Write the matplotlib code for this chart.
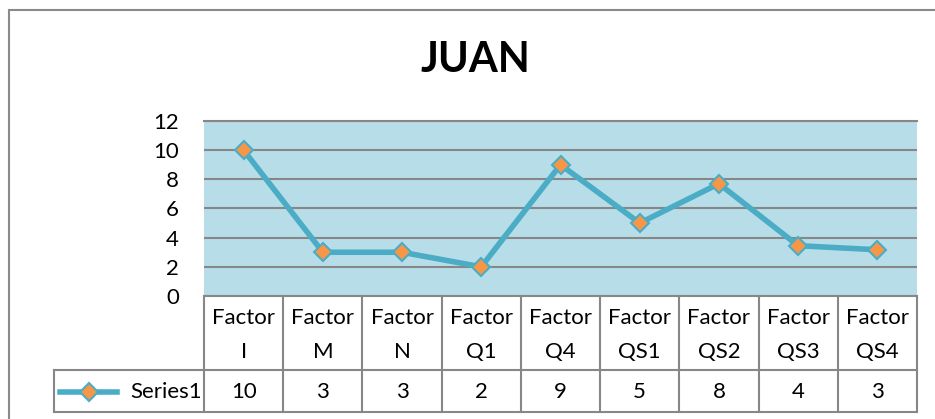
import matplotlib.pyplot as plt
from matplotlib.patches import Rectangle
from matplotlib.lines import Line2D

plt.rcParams['font.family'] = ['Lato', 'DejaVu Sans']

# chart data
categories = ['Factor\nI', 'Factor\nM', 'Factor\nN', 'Factor\nQ1', 'Factor\nQ4',
              'Factor\nQS1', 'Factor\nQS2', 'Factor\nQS3', 'Factor\nQS4']
values = [10, 3, 3, 2, 9, 5, 7.7, 3.45, 3.17]
table_labels = ['10', '3', '3', '2', '9', '5', '8', '4', '3']
series_name = 'Series1'
title = 'JUAN'

W, H = 935, 419
LINE_C = '#4BACC6'
MARK_C = '#F79646'
GRID_C = '#878787'
BG_C = '#B7DDE8'
FS = 16

fig = plt.figure(figsize=(W / 100, H / 100), dpi=100)

# outer chart border
fig.patches.append(Rectangle((9 / W, -0.01), 1.0, 1 - 10 / H + 0.01, transform=fig.transFigure,
                             fill=False, edgecolor='#8a8a8a', linewidth=1.5))

ax = fig.add_axes([204 / W, (H - 296) / H, 713 / W, 175 / H])
ax.set_facecolor(BG_C)
x = list(range(len(values)))
ax.plot(x, values, color=LINE_C, linewidth=4, marker='D', markersize=9,
        markerfacecolor=MARK_C, markeredgecolor=LINE_C, markeredgewidth=1.5, zorder=3)
ax.set_xlim(-0.5, len(values) - 0.5)
ax.set_ylim(0, 12)
ax.set_yticks(range(0, 13, 2))
ax.yaxis.grid(True, color=GRID_C, linewidth=1.5)
ax.set_axisbelow(True)
ax.set_xticks([])
ax.tick_params(axis='y', length=0, labelsize=FS, pad=18)
for s in ['left', 'bottom', 'right']:
    ax.spines[s].set_visible(False)
ax.spines['top'].set_color(GRID_C)
ax.spines['top'].set_linewidth(1.5)

fig.text(475 / W, 1 - 60 / H, title, ha='center', va='center', fontsize=30, fontweight='bold')

# data table below the plot
tr = ax.get_xaxis_transform()
y_head = -0.423
y_bot = -0.663
x_left = -0.5 - (204 - 54) / (713 / len(values))
x_right = len(values) - 0.5
tkw = dict(transform=tr, clip_on=False, color=GRID_C, linewidth=1.5)
ax.plot([-0.5, x_right], [0, 0], **tkw)
ax.plot([x_left, x_right], [y_head, y_head], **tkw)
ax.plot([x_left, x_right], [y_bot, y_bot], **tkw)
ax.plot([x_left, x_left], [y_head, y_bot], **tkw)
for i in range(len(values) + 1):
    ax.plot([i - 0.5, i - 0.5], [0, y_bot], **tkw)

for i, (lab, v) in enumerate(zip(categories, table_labels)):
    top, bot = lab.split('\n')
    ax.text(i, -0.125, top, transform=tr, ha='center', va='center', fontsize=FS)
    ax.text(i, -0.32, bot, transform=tr, ha='center', va='center', fontsize=FS)
    ax.text(i, -0.549, v, transform=tr, ha='center', va='center', fontsize=FS)

# legend key in the table
ax.add_line(Line2D([x_left + 0.08, x_left + 0.8], [-0.549, -0.549], transform=tr, clip_on=False,
                   color=LINE_C, linewidth=4))
ax.add_line(Line2D([x_left + 0.44], [-0.549], transform=tr, clip_on=False, marker='D',
                   markersize=9, markerfacecolor=MARK_C, markeredgecolor=LINE_C,
                   markeredgewidth=1.5, linestyle='none'))
ax.text(-0.53, -0.549, series_name, transform=tr, ha='right', va='center', fontsize=FS)

fig.savefig('out.png', dpi=100)
